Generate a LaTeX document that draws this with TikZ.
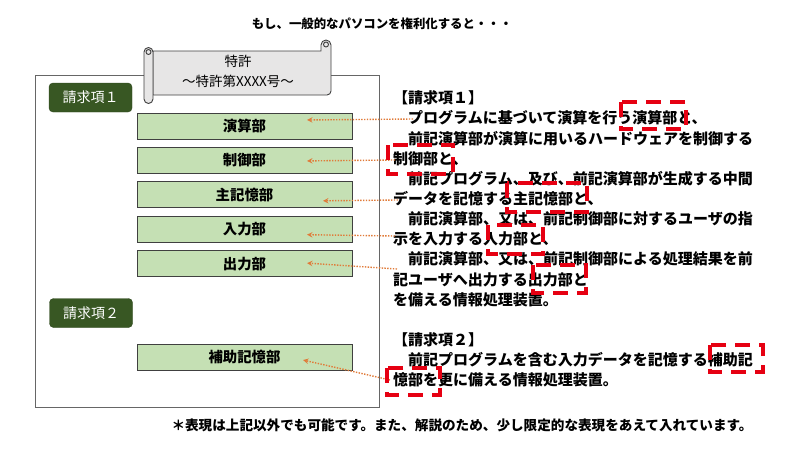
\documentclass[tikz,border=0pt]{standalone}
\usepackage{fontspec}
\setmainfont{Noto Sans CJK JP}
\usepackage{tikz}
\usetikzlibrary{arrows,positioning}
\definecolor{unitgreen}{HTML}{C5E0B4}
\definecolor{claimgreen}{HTML}{385723}
\definecolor{scrollgray}{HTML}{E7E6E6}
\definecolor{pointerorange}{HTML}{E07B39}
\definecolor{markred}{HTML}{E60012}

\begin{document}
\begin{tikzpicture}[
x=1pt, y=-1pt,
font=\bfseries,
unit/.style={draw=black!75, line width=0.9pt, fill=unitgreen, minimum width=215pt, minimum height=26pt, inner sep=0pt, font=\bfseries\fontsize{14.4}{14.4}\selectfont},
claimtag/.style={fill=claimgreen, draw=claimgreen!80!black, rounded corners=4pt, minimum width=83pt, minimum height=29pt, inner sep=0pt, text=white, font=\mdseries\fontsize{14}{14}\selectfont},
claimline/.style={anchor=west, inner sep=0pt, font=\bfseries\fontsize{15}{15}\selectfont, text height=0.88em, text depth=0.12em},
pointer/.style={->,>=stealth, draw=pointerorange, line width=1.4pt, dash pattern=on 1.4pt off 1.4pt},
redframe/.style={draw=markred, line width=3.2pt, dash pattern=on 15pt off 9pt},
scroll/.style={draw=black!75, line width=0.9pt, fill=scrollgray},
frame/.style={draw=black!60, line width=0.9pt}
]
    \useasboundingbox (0,0) rectangle (800,450);

    \node[font=\bfseries\fontsize{12.4}{12.4}\selectfont] (title) at (382,24) {もし、一般的なパソコンを権利化すると・・・};

    % Draw frame and scroll
    \draw[frame] (35,75) rectangle (379,407);
    \draw[scroll] (153,51) -- (321,51) -- (321,45) arc[start angle=180,end angle=360,radius=5]
        -- (331,91) arc[start angle=0,end angle=90,radius=4] -- (153,95) -- cycle;
    \draw[scroll] (153,52) -- (153,99) arc[start angle=0,end angle=180,radius=4.5]
        -- (144,52) arc[start angle=180,end angle=360,radius=4.5] -- cycle;
    \draw[scroll] (326,44.5) circle[radius=2.5];
    \draw[scroll] (148.5,52) circle[radius=2.5];
    \node[font=\mdseries\fontsize{13.5}{20}\selectfont, align=center] (patent) at (238,71) {特許\\～特許第XXXX号～};

    \node[claimtag] (tag1) at (90.5,97.5) {請求項１};
    \node[claimtag] (tag2) at (91,313) {請求項２};

    \node[unit] (alu) at (244.5,126) {演算部};
    \node[unit, below=7.5pt of alu] (ctrl) {制御部};
    \node[unit, below=7.5pt of ctrl] (mem) {主記憶部};
    \node[unit, below=7.5pt of mem] (inp) {入力部};
    \node[unit, below=7.5pt of inp] (outp) {出力部};
    \node[unit] (aux) at (244.5,357) {補助記憶部};

    % Claim texts
    \node[claimline] (c1a) at (393,100) {【請求項１】};
    \node[claimline] (c1b) at (393,120.1) {　プログラムに基づいて演算を行う演算部と、};
    \node[claimline] (c1c) at (393,140.3) {　前記演算部が演算に用いるハードウェアを制御する};
    \node[claimline] (c1d) at (393,160.4) {制御部と、};
    \node[claimline] (c1e) at (393,180.6) {　前記プログラム、及び、前記演算部が生成する中間};
    \node[claimline] (c1f) at (393,200.7) {データを記憶する主記憶部と、};
    \node[claimline] (c1g) at (393,220.8) {　前記演算部、又は、前記制御部に対するユーザの指};
    \node[claimline] (c1h) at (393,241.0) {示を入力する入力部と、};
    \node[claimline] (c1i) at (393,261.1) {　前記演算部、又は、前記制御部による処理結果を前};
    \node[claimline] (c1j) at (393,281.3) {記ユーザへ出力する出力部と};
    \node[claimline] (c1k) at (393,301.4) {を備える情報処理装置。};
    \node[claimline] (c2a) at (393,341.7) {【請求項２】};
    \node[claimline] (c2b) at (393,361.8) {　前記プログラムを含む入力データを記憶する補助記};
    \node[claimline] (c2c) at (393,382.0) {憶部を更に備える情報処理装置。};

    % Pointers from text to units
    \coordinate (s1) at (413,119);
    \coordinate (s2) at (395,160);
    \coordinate (s3) at (398,200);
    \coordinate (s4) at (395,236);
    \coordinate (s5) at (397,269);
    \coordinate (s6) at (390,380);
    \draw[pointer] (s1) -- ([shift={(62.5,-6)}]alu.center);
    \draw[pointer] (s2) -- ([shift={(62.5,0.5)}]ctrl.center);
    \draw[pointer] (s3) -- ([shift={(78.5,6)}]mem.center);
    \draw[pointer] (s4) -- ([shift={(62.5,5.5)}]inp.center);
    \draw[pointer] (s5) -- ([shift={(62.5,-0.5)}]outp.center);
    \draw[pointer] (s6) -- ([shift={(58.5,3)}]aux.center);

    % Red marks
    \draw[redframe] (621,102) rectangle (686,129);
    \draw[redframe] (388,145) rectangle (453,174);
    \draw[redframe] (507,183) rectangle (587,212);
    \draw[redframe] (488,225) rectangle (543,254);
    \draw[redframe] (533,265) rectangle (586,293);
    \draw[redframe] (387,368) rectangle (440,395);
    \draw[redframe] (710,345) rectangle (763,372);

    \node[font=\bfseries\fontsize{13.6}{13.6}\selectfont] (note) at (462,425) {＊表現は上記以外でも可能です。また、解説のため、少し限定的な表現をあえて入れています。};
\end{tikzpicture}
\end{document}
